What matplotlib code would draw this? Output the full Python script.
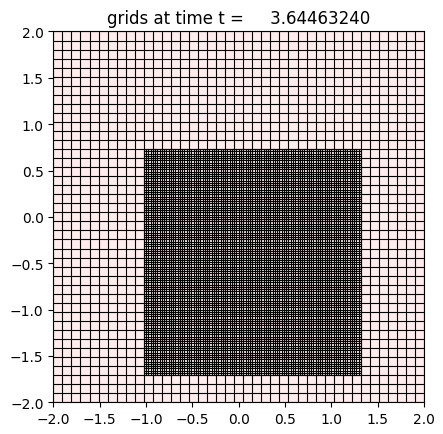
import numpy as np
from matplotlib import pyplot as plt

# Grid description
domain = [-2.0, 2.0]          # square domain, both axes
coarse_cells = 41             # coarse cells per side
patch_i = [10, 34]            # refined patch, coarse cell index range in x
patch_j = [3, 28]             # refined patch, coarse cell index range in y
refine_ratio = 4
time_value = 3.64463240

cell_color = '#ffeded'

# Coarse level
xc = np.linspace(domain[0], domain[1], coarse_cells + 1)
yc = np.linspace(domain[0], domain[1], coarse_cells + 1)

# Fine level covering the patch
xf = np.linspace(xc[patch_i[0]], xc[patch_i[1]],
                 (patch_i[1] - patch_i[0]) * refine_ratio + 1)
yf = np.linspace(yc[patch_j[0]], yc[patch_j[1]],
                 (patch_j[1] - patch_j[0]) * refine_ratio + 1)

fig = plt.figure(figsize=(4.43, 4.35), dpi=100)
ax = fig.add_axes([0.1204, 0.0729, 0.837, 0.8525])
ax.set_facecolor(cell_color)

lw = 0.8
# coarse grid lines
ax.vlines(xc, domain[0], domain[1], colors='black', linewidth=lw)
ax.hlines(yc, domain[0], domain[1], colors='black', linewidth=lw)
# fine grid lines, only inside the patch
ax.vlines(xf, yf[0], yf[-1], colors='black', linewidth=lw)
ax.hlines(yf, xf[0], xf[-1], colors='black', linewidth=lw)

ax.set_xlim(domain)
ax.set_ylim(domain)
ax.set_aspect('equal')
ax.set_xticks(np.arange(-2.0, 2.01, 0.5))
ax.set_yticks(np.arange(-2.0, 2.01, 0.5))
ax.set_title("grids at time t =  %13.8f" % time_value)

fig.savefig("out.png", dpi=100)
